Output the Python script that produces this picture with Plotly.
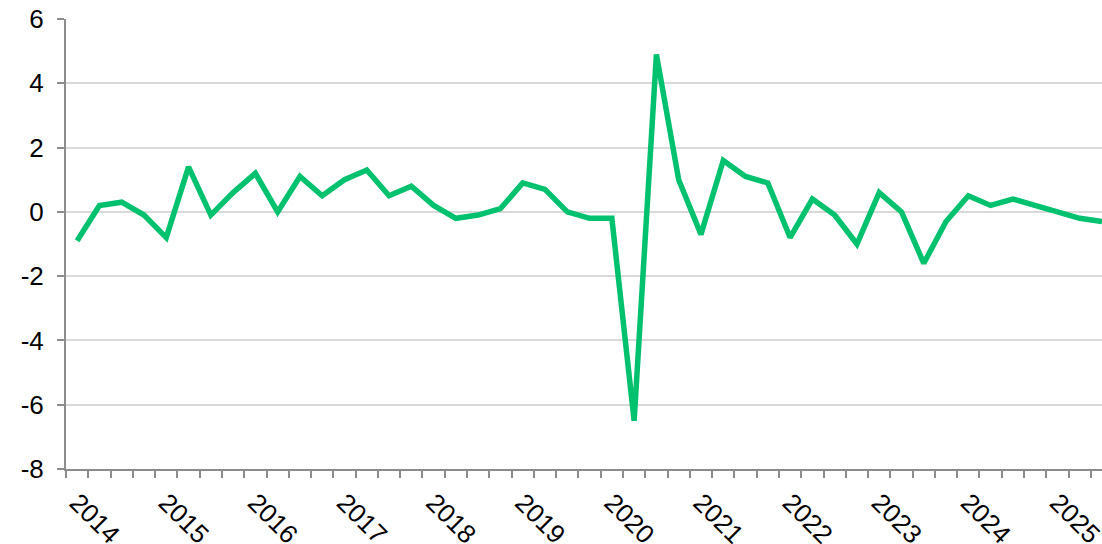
import plotly.graph_objects as go

years = list(range(2014, 2026))
quarters = [f"{y} Q{q}" for y in years for q in range(1, 5)][:47]
values = [-0.9, 0.2, 0.3, -0.1, -0.8, 1.4, -0.1, 0.6, 1.2, 0.0, 1.1, 0.5,
          1.0, 1.3, 0.5, 0.8, 0.2, -0.2, -0.1, 0.1, 0.9, 0.7, 0.0, -0.2,
          -0.2, -6.5, 4.9, 1.0, -0.7, 1.6, 1.1, 0.9, -0.8, 0.4, -0.1, -1.0,
          0.6, 0.0, -1.6, -0.3, 0.5, 0.2, 0.4, 0.2, 0.0, -0.2, -0.3]
tick_text = [q.split(" ")[0] if q.endswith("Q1") else "" for q in quarters]
y_ticks = [6, 4, 2, 0, -2, -4, -6, -8]

fig = go.Figure()
fig.add_trace(go.Scatter(x=quarters, y=values, mode="lines",
                         line=dict(color="#00C16E", width=5.5),
                         hoverinfo="skip"))

axis_col = "#8c8c8c"
fig.update_layout(
    width=1102, height=544,
    margin=dict(l=66, r=0, t=19, b=75),
    paper_bgcolor="white", plot_bgcolor="white",
    showlegend=False,
    font=dict(family="Liberation Sans, Arial, sans-serif", size=26, color="black"),
    xaxis=dict(type="category", tickmode="array", tickvals=quarters, ticktext=tick_text,
               tickson="boundaries", ticks="outside", ticklen=7, tickwidth=2,
               tickcolor=axis_col, showline=True, linecolor=axis_col, linewidth=2,
               showgrid=False, tickangle=45, range=[-0.5, 46], zeroline=False,
               automargin=False, ticklabelstandoff=6),
    yaxis=dict(range=[-8, 6], tickmode="array", tickvals=y_ticks,
               ticktext=[str(v) for v in y_ticks],
               ticks="outside", ticklen=7, tickwidth=2, tickcolor=axis_col,
               showline=True, linecolor=axis_col, linewidth=2,
               showgrid=True, gridcolor="#d9d9d9", gridwidth=2, zeroline=False,
               automargin=False, ticklabelstandoff=8),
)
fig.write_html("out.html", config={"displayModeBar": False},
               post_script="document.body.style.margin='0';document.body.style.padding='0';document.body.style.overflow='hidden';")
